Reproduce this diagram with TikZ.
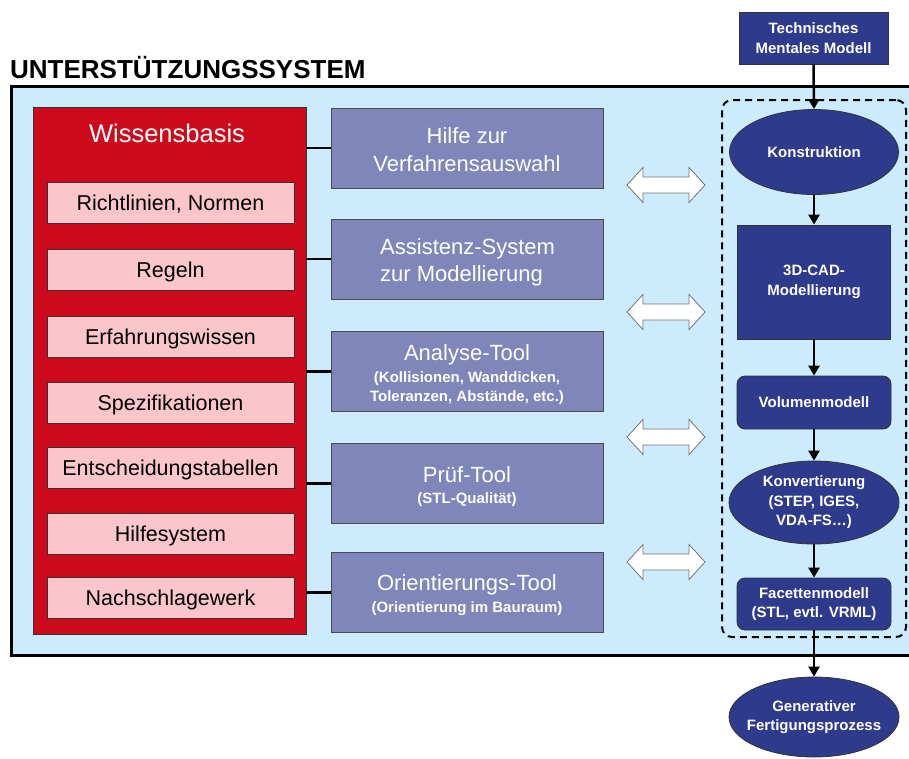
\documentclass[tikz,border=0pt]{standalone}
\usepackage{fontspec}
\setmainfont{Liberation Sans}
\usetikzlibrary{arrows.meta,shapes.geometric}
\definecolor{lightbg}{RGB}{204,235,252}
\definecolor{redc}{RGB}{204,10,27}
\definecolor{pinkc}{RGB}{250,198,204}
\definecolor{purplec}{RGB}{127,134,186}
\definecolor{darkc}{RGB}{46,58,140}
\begin{document}
\begin{tikzpicture}[x=1pt,y=-1pt,
  pinkbox/.style={draw=black!80, line width=0.8pt, fill=pinkc, minimum width=247pt, minimum height=41pt, inner sep=0pt, text height=15.4pt, text depth=0pt, font=\fontsize{21.5}{26}\selectfont, text=black},
  purplebox/.style={draw=black!70, line width=0.8pt, fill=purplec, minimum width=272pt, minimum height=80pt, inner sep=0pt},
  bigtxt/.style={text=white, font=\fontsize{22}{28}\selectfont, anchor=base, inner sep=0pt},
  smalltxt/.style={text=white, font=\bfseries\fontsize{15}{19}\selectfont, anchor=base, inner sep=0pt},
  dbox/.style={draw=black!80, line width=0.8pt, fill=darkc, text=white, font=\bfseries\fontsize{15}{19.5}\selectfont, align=center, inner sep=0pt},
  dell/.style={dbox, ellipse, inner sep=-9pt},
  link/.style={line width=2.5pt, black},
  flow/.style={line width=2.5pt, -{Triangle[length=10pt,width=11pt]}},
  dblarrow/.style={draw=black!55, fill=white, line width=0.8pt},
]
\useasboundingbox (0,0) rectangle (909,758);

% title and main frame
\node[anchor=base west, inner sep=0pt, font=\bfseries\fontsize{26}{30}\selectfont] (title) at (10,78) {UNTERSTÜTZUNGSSYSTEM};
\draw[line width=3pt, fill=lightbg] (11,86) rectangle (920,655);

% Wissensbasis
\node[draw=black!80, line width=0.8pt, fill=redc, minimum width=273pt, minimum height=527pt, inner sep=0pt] (wb) at (169.5,370.5) {};
\node[text=white, font=\fontsize{25.5}{30}\selectfont, anchor=base, inner sep=0pt] (wbt) at (167,142) {Wissensbasis};

\node[pinkbox] (k1) at (170.5,202.5) {Richtlinien, Normen};
\node[pinkbox] (k2) at (170.5,270) {Regeln};
\node[pinkbox] (k3) at (170.5,337) {Erfahrungswissen};
\node[pinkbox] (k4) at (170.5,402.5) {Spezifikationen};
\node[pinkbox] (k5) at (170.5,468) {Entscheidungstabellen};
\node[pinkbox] (k6) at (170.5,533.5) {Hilfesystem};
\node[pinkbox] (k7) at (170.5,598) {Nachschlagewerk};

% tool boxes
\node[purplebox] (p1) at (467,148) {};
\node[purplebox] (p2) at (467,259) {};
\node[purplebox] (p3) at (467,371.5) {};
\node[purplebox] (p4) at (467,483.5) {};
\node[purplebox] (p5) at (467,592.5) {};

\node[bigtxt] (p1a) at (467,143) {Hilfe zur};
\node[bigtxt] (p1b) at (467,171) {Verfahrensauswahl};
\node[bigtxt, anchor=base west] (p2a) at (380,254) {Assistenz-System};
\node[bigtxt, anchor=base west] (p2b) at (380,281) {zur Modellierung};
\node[bigtxt] (p3a) at (467,360) {Analyse-Tool};
\node[smalltxt] (p3b) at (467,382) {(Kollisionen, Wanddicken,};
\node[smalltxt] (p3c) at (467,401) {Toleranzen, Abstände, etc.)};
\node[bigtxt] (p4a) at (467,482) {Prüf-Tool};
\node[smalltxt] (p4b) at (467,503) {(STL-Qualität)};
\node[bigtxt] (p5a) at (467,590) {Orientierungs-Tool};
\node[smalltxt] (p5b) at (467,612) {(Orientierung im Bauraum)};

\foreach \p in {p1,p2,p3,p4,p5}
  \draw[link] (wb.east |- \p.west) -- (\p.west);

% double arrows
\foreach \cy in {185,312,437,562}
  \draw[dblarrow] (627,\cy) -- (643,\cy-17.5) -- (643,\cy-8) -- (689,\cy-8) -- (689,\cy-17.5)
    -- (705,\cy) -- (689,\cy+17.5) -- (689,\cy+8) -- (643,\cy+8) -- (643,\cy+17.5) -- cycle;

% process group
\node[draw, dashed, dash pattern=on 7pt off 5pt, line width=2pt, rounded corners=10pt, minimum width=184pt, minimum height=537pt, inner sep=0pt] (grp) at (814,368.5) {};

\node[dbox, minimum width=149pt, minimum height=52pt] (tmm) at (813.5,38) {Technisches\\Mentales Modell};
\node[dell, minimum width=169pt, minimum height=85pt] (kon) at (814,152) {Konstruktion};
\node[dbox, minimum width=153pt, minimum height=114pt] (cad) at (814,282) {3D-CAD-\\Modellierung};
\node[dbox, rounded corners=8pt, minimum width=154pt, minimum height=53pt] (vol) at (814,402.5) {Volumenmodell};
\node[dell, minimum width=170pt, minimum height=83pt] (konv) at (814,502.5) {Konvertierung\\(STEP, IGES,\\VDA-FS…)};
\node[dbox, rounded corners=8pt, minimum width=154pt, minimum height=52pt] (fac) at (814,604) {Facettenmodell\\(STL, evtl. VRML)};
\node[dell, minimum width=170pt, minimum height=80pt] (gen) at (814,717) {Generativer\\Fertigungsprozess};

\draw[flow] (tmm.south) -- (kon.north);
\draw[flow] (kon.south) -- (cad.north);
\draw[flow] (cad.south) -- (vol.north);
\draw[flow] (vol.south) -- (konv.north);
\draw[flow] (konv.south) -- (fac.north);
\draw[flow] (fac.south) -- (gen.north);
\end{tikzpicture}
\end{document}
